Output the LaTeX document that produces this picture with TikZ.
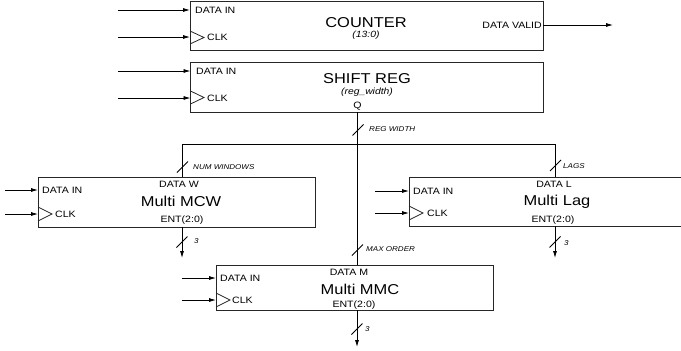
\documentclass[tikz,border=0pt]{standalone}
\usepackage{fontspec}
\setmainfont{Liberation Sans}[FakeStretch=1.15]
\usetikzlibrary{arrows.meta}
\begin{document}
\begin{tikzpicture}[x=1pt,y=-1pt,
  box/.style={draw=black!85, line width=0.9pt, inner sep=0pt, outer sep=0pt, anchor=north west},
  openbox/.style={draw=none, inner sep=0pt, outer sep=0pt, anchor=north west},
  wire/.style={line width=0.8pt, black},
  arr/.style={wire, -{Latex[length=7pt,width=4pt]}},
  lbl/.style={font=\fontsize{9.2}{10}\selectfont, inner sep=0pt},
  ttl/.style={font=\fontsize{14.3}{16}\selectfont, inner sep=0pt},
  sub/.style={font=\fontsize{9}{10}\selectfont\itshape, inner sep=0pt},
  bw/.style={font=\fontsize{7}{8}\selectfont\itshape, inner sep=0pt, anchor=west},
  clk/.style={line width=0.8pt, black!85}]
\useasboundingbox (0,0) rectangle (681,351);

% ---------- COUNTER ----------
\node[box, minimum width=353pt, minimum height=49pt] (cnt) at (190,1) {};
\node[ttl] (cntt) at (366,23) {COUNTER};
\node[sub] (cnts) at (366,35) {(13:0)};
\node[lbl, anchor=west] (cntdi) at (195,10) {DATA IN};
\node[lbl, anchor=west] (cntck) at (207,37) {CLK};
\node[lbl, anchor=east] (cntdv) at (542,25) {DATA VALID};
\coordinate (cntin1) at (118,10);
\coordinate (cntin2) at (118,37);
\coordinate (cntout) at (613,25);
\draw[arr] (cntin1) -- (cntin1 -| cnt.west);
\draw[arr] (cntin2) -- (cntin2 -| cnt.west);
\draw[arr] (cntout -| cnt.east) -- (cntout);
\draw[clk] (190,31) -- (204,37.5) -- (190,44);

% ---------- SHIFT REG ----------
\node[box, minimum width=352.5pt, minimum height=50pt] (sr) at (190.5,62) {};
\node[ttl] (srt) at (367,79) {SHIFT REG};
\node[sub] (srs) at (367,92) {(reg\_width)};
\node[lbl, anchor=west] (srdi) at (196,71) {DATA IN};
\node[lbl, anchor=west] (srck) at (207,98) {CLK};
\node[lbl] (srq) at (357.5,106.5) {Q};
\coordinate (srin1) at (118,71);
\coordinate (srin2) at (118,98);
\draw[arr] (srin1) -- (srin1 -| sr.west);
\draw[arr] (srin2) -- (srin2 -| sr.west);
\draw[clk] (190.5,91) -- (204,97.5) -- (190.5,104);

% ---------- Multi MCW ----------
\node[box, minimum width=277pt, minimum height=50pt] (mcw) at (38,177) {};
\node[lbl] (mcwdw) at (179,184) {DATA W};
\node[ttl] (mcwt) at (181,201) {Multi MCW};
\node[lbl] (mcwent) at (182,220) {ENT(2:0)};
\node[lbl, anchor=west] (mcwdi) at (42,190) {DATA IN};
\node[lbl, anchor=west] (mcwck) at (55,214) {CLK};
\coordinate (mcwin1) at (5,190);
\coordinate (mcwin2) at (5,214);
\draw[arr] (mcwin1) -- (mcwin1 -| mcw.west);
\draw[arr] (mcwin2) -- (mcwin2 -| mcw.west);
\draw[clk] (38,207) -- (52,214) -- (38,221);

% ---------- Multi Lag ----------
\node[openbox, minimum width=277pt, minimum height=49pt] (lag) at (409,177) {};
\draw[draw=black!85, line width=0.9pt] (681,177) -- (lag.north west) -- (lag.south west) -- (681,226);
\node[lbl] (lagdl) at (554,184) {DATA L};
\node[ttl] (lagt) at (557,202) {Multi Lag};
\node[lbl] (lagent) at (553,220) {ENT(2:0)};
\node[lbl, anchor=west] (lagdi) at (413,191) {DATA IN};
\node[lbl, anchor=west] (lagck) at (427,213) {CLK};
\coordinate (lagin1) at (375,191);
\coordinate (lagin2) at (375,213);
\draw[arr] (lagin1) -- (lagin1 -| lag.west);
\draw[arr] (lagin2) -- (lagin2 -| lag.west);
\draw[clk] (409,206) -- (423,213) -- (409,220);

% ---------- Multi MMC ----------
\node[box, minimum width=277pt, minimum height=45pt] (mmc) at (216,265) {};
\node[lbl] (mmcdm) at (349,272) {DATA M};
\node[ttl] (mmct) at (360,289) {Multi MMC};
\node[lbl] (mmcent) at (354,305) {ENT(2:0)};
\node[lbl, anchor=west] (mmcdi) at (220,278) {DATA IN};
\node[lbl, anchor=west] (mmcck) at (232,300) {CLK};
\coordinate (mmcin1) at (182,278);
\coordinate (mmcin2) at (182,300);
\draw[arr] (mmcin1) -- (mmcin1 -| mmc.west);
\draw[arr] (mmcin2) -- (mmcin2 -| mmc.west);
\draw[clk] (216,293) -- (230,300) -- (216,307);

% ---------- buses ----------
\coordinate (busL) at (182,144);
\coordinate (busR) at (555,144);
\coordinate (qx) at (357.5,144);
\draw[wire] (mcw.north -| busL) -- (busL) -- (busR) -- (lag.north -| busR);
\draw[wire] (sr.south -| qx) -- (mmc.north -| qx);

% outputs
\coordinate (mcwout) at (182,258);
\coordinate (lagout) at (555,258);
\coordinate (mmcout) at (357,347);
\draw[arr] (mcw.south -| mcwout) -- (mcwout);
\draw[arr] (lag.south -| lagout) -- (lagout);
\draw[arr] (mmc.south -| mmcout) -- (mmcout);

% bus width slashes and labels
\draw[wire] (352.5,135.5) -- (363.5,124.5);
\node[bw] (wreg) at (369,129) {REG WIDTH};
\draw[wire] (177,172.5) -- (188,161.5);
\node[bw] (wnum) at (193,167) {NUM WINDOWS};
\draw[wire] (550,171) -- (561,160);
\node[bw] (wlags) at (563,166) {LAGS};
\draw[wire] (352,255.5) -- (363,244.5);
\node[bw] (wmax) at (366,249) {MAX ORDER};
\draw[wire] (176.5,247.5) -- (187.5,236.5);
\node[bw] (w3a) at (194,241) {3};
\draw[wire] (549.5,247.5) -- (560.5,236.5);
\node[bw] (w3b) at (564,243) {3};
\draw[wire] (351.5,334.5) -- (362.5,323.5);
\node[bw] (w3c) at (365,329) {3};
\end{tikzpicture}
\end{document}
